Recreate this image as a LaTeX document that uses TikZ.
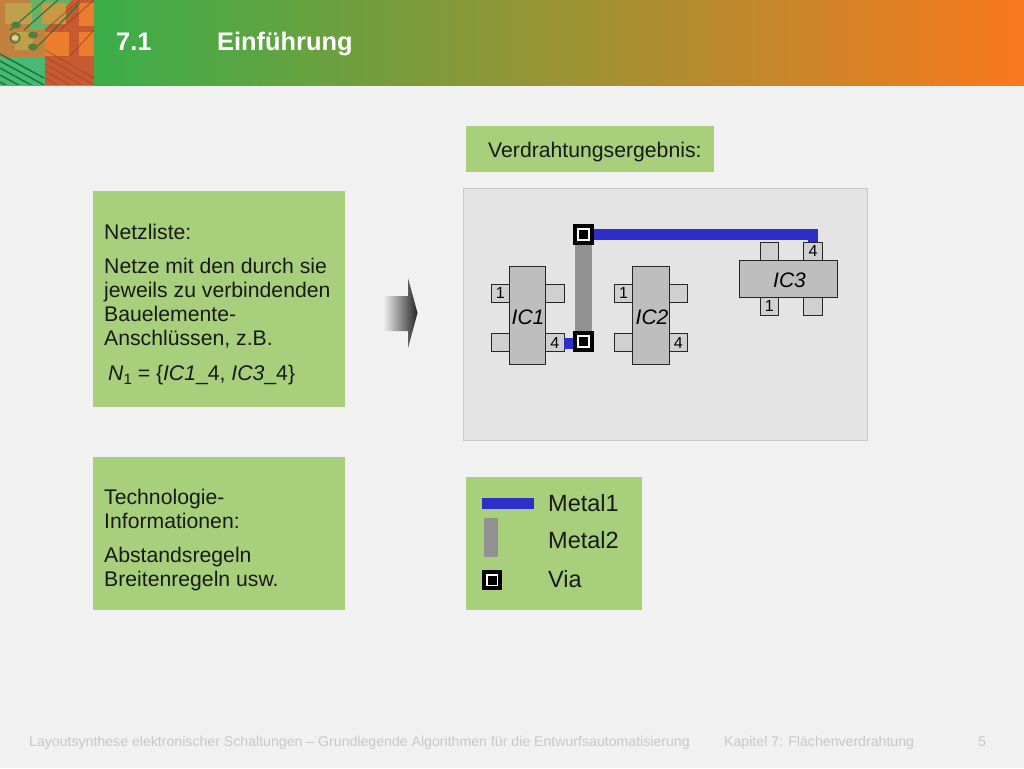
\documentclass[tikz,border=0pt]{standalone}
\usepackage{fontspec}
\setmainfont{Liberation Sans}
\definecolor{pagebg}{RGB}{241,241,241}
\definecolor{boxgreen}{RGB}{168,208,124}
\definecolor{headgreen}{RGB}{58,174,74}
\definecolor{headorange}{RGB}{250,120,30}
\definecolor{panel}{RGB}{228,228,228}
\definecolor{paneledge}{RGB}{200,200,200}
\definecolor{icbody}{RGB}{190,190,190}
\definecolor{icpin}{RGB}{208,208,208}
\definecolor{metalone}{RGB}{46,46,200}
\definecolor{metaltwo}{RGB}{146,146,146}
\definecolor{foot}{RGB}{200,200,200}
\definecolor{pcbgreen}{RGB}{70,185,115}
\definecolor{pcbdark}{RGB}{30,115,60}
\definecolor{pcbred}{RGB}{200,90,50}
\definecolor{pcbolive}{RGB}{190,160,75}
\definecolor{pcborange}{RGB}{235,125,45}
\tikzset{
  pxbox/.style n args={2}{rectangle,anchor=north west,inner sep=0pt,outer sep=0pt,minimum width=#1 pt,minimum height=#2 pt},
  greenbox/.style={fill=boxgreen},
  icb/.style={draw=black!85,line width=0.9pt,fill=icbody},
  icp/.style={draw=black!85,line width=0.9pt,fill=icpin,font=\fontsize{16}{16}\selectfont},
  viaouter/.style={rectangle,fill=black,minimum size=20.5pt,inner sep=0pt,outer sep=0pt},
  viaring/.style={rectangle,fill=white,minimum size=12.5pt,inner sep=0pt},
  viainner/.style={rectangle,fill=black,minimum size=9pt,inner sep=0pt},
  body/.style={anchor=north west,inner sep=0pt,align=left,font=\fontsize{21.2}{24}\selectfont,text=black!90},
  leg/.style={anchor=west,inner sep=0pt,font=\fontsize{23.5}{23.5}\selectfont,text=black!90},
  footer/.style={anchor=base west,inner sep=0pt,font=\fontsize{14.13}{15}\selectfont,text=foot},
  title/.style={anchor=base west,inner sep=0pt,font=\fontsize{25.4}{25.4}\selectfont\bfseries,text=white},
  iclabel/.style={inner sep=0pt,font=\fontsize{21}{21}\selectfont\itshape}
}
\begin{document}
\begin{tikzpicture}[x=1pt,y=-1pt]
\useasboundingbox (0,0) rectangle (1024,768);
\fill[pagebg] (0,0) rectangle (1024,768);
% header
\shade[left color=headgreen,right color=headorange,shading angle=90,left color=headgreen,right color=headorange] (94,0) rectangle (1024,85);
% pcb picture
\begin{scope}
\clip (0,0) rectangle (94,85);
\fill[pcbred] (0,0) rectangle (94,85);
\fill[pcbolive!55!pcbred] (0,0) rectangle (45,57);
\fill[pcbgreen] (0,57) rectangle (45,85);
\fill[pcbgreen!70!pcbolive] (30,0) -- (72,0) -- (45,30) -- (30,30) -- cycle;
\fill[pcbolive] (5,3) rectangle (32,24);
\fill[pcbolive!80!pcborange] (42,3) rectangle (66,24);
\fill[pcbolive] (15,32) rectangle (33,50);
\fill[pcborange] (79,3) rectangle (94,26);
\fill[pcborange] (45,32) rectangle (69,56);
\fill[pcborange] (79,32) rectangle (94,56);
\foreach \i in {0,7,...,42}{
  \draw[pcbdark,line width=1.4pt] (0,54+\i) -- (44,78+\i);
  \draw[pcbred!70!black,line width=1pt,opacity=.5] (45,50+\i) -- (94,78+\i);
}
\draw[pcbdark,line width=1pt] (10,30) -- (45,0) (24,30) -- (58,0) (38,46) -- (80,3);
\draw[pcbred!70!black,line width=1pt,opacity=.6] (45,30) -- (80,0) (60,30) -- (94,0) (70,56) -- (94,30);
\fill[pcbdark!70!pcbolive] (16,25) ellipse (5 and 3.5);
\fill[pcbdark!70!pcbolive] (33,47) ellipse (5 and 3.5);
\fill[pcbdark!70!pcbolive] (33,35) ellipse (5 and 3.5);
\fill[pcbolive!50!white] (15,38) ellipse (3 and 2.5);
\draw[pcbdark,line width=1pt] (15,38) circle (5);
\end{scope}
\draw[pcbgreen,line width=0.8pt] (0,85) -- (94,85);
\node[title] (titlenum) at (116,50) {7.1};
\node[title] (titletxt) at (217,50) {Einführung};
% text boxes
\node[pxbox={252}{216},greenbox] (netz) at (93,191) {};
\node[pxbox={252}{153},greenbox] (tech) at (93,457) {};
\node[pxbox={248}{46},greenbox] (erg) at (466,126) {};
\node[pxbox={176}{133},greenbox] (legbox) at (465.5,477) {};
\node[body] (ergt) at (488,142) {Verdrahtungsergebnis:};
\node[body] (n1) at (104,223.5) {Netzliste:};
\node[body] (n2) at (104,257.5) {Netze mit den durch sie\\jeweils zu verbindenden\\Bauelemente-\\Anschlüssen, z.B.};
\node[body] (n3) at (108,365) {\textit{N}\raisebox{-3.5pt}{\fontsize{15}{15}\selectfont 1} = \{\textit{IC1}\_4, \textit{IC3}\_4\}};
\node[body] (t1) at (104,489) {Technologie-\\Informationen:};
\node[body] (t2) at (104,547) {Abstandsregeln\\Breitenregeln usw.};
% arrow
\shade[left color=pagebg,right color=black!85,shading angle=90,left color=pagebg,right color=black!85]
  (383,296) -- (408,296) -- (408,278) -- (417.5,313) -- (408,348) -- (408,331) -- (383,331) -- cycle;
% panel
\node[pxbox={403.5}{252},fill=panel,draw=paneledge,line width=1pt] (panel) at (463.5,188) {};
% IC pins
\node[pxbox={18.4}{18.6},icp] (a1) at (491,284) {1};
\node[pxbox={18.4}{18.6},icp] (a2) at (545.7,284) {};
\node[pxbox={18.4}{18.6},icp] (a3) at (491,333.2) {};
\node[pxbox={18.4}{18.6},icp] (a4) at (545.7,333.2) {4};
\node[pxbox={18.4}{18.6},icp] (b1) at (614.3,284) {1};
\node[pxbox={18.4}{18.6},icp] (b2) at (669,284) {};
\node[pxbox={18.4}{18.6},icp] (b3) at (614.3,333.2) {};
\node[pxbox={18.4}{18.6},icp] (b4) at (669,333.2) {4};
\node[pxbox={18.4}{18}, icp] (c2) at (760,242.3) {};
\node[pxbox={18.4}{18}, icp] (c4) at (803.8,242.3) {\raisebox{-1.5pt}{4}};
\node[pxbox={18.4}{18}, icp] (c1) at (760,297) {1};
\node[pxbox={18.4}{18}, icp] (c3) at (803.8,297) {};
% IC bodies
\node[pxbox={36.4}{98.3},icb] (ic1) at (509.3,266) {};
\node[pxbox={36.4}{98.3},icb] (ic2) at (632.8,266) {};
\node[pxbox={98.4}{36.7},icb] (ic3) at (739.3,260.3) {};
\node[iclabel] at (528,317) {IC1};
\node[iclabel] at (652,317) {IC2};
\node[iclabel] at (789.5,280) {IC3};
% vias and wires
\node[viaouter] (v1) at (583.7,234.3) {};
\node[viaouter] (v2) at (583.7,341.7) {};
\draw[metaltwo,line width=16.7pt] (v1.south) -- (v2.north);
\draw[metalone,line width=10.5pt] (v1.east) -- (817.7,234.3);
\fill[metalone] (807.6,239) rectangle (817.7,242);
\draw[metalone,line width=11pt] (a4.east |- 0,343.5) -- (v2.west |- 0,343.5);
\node[viaring] at (v1) {};
\node[viainner] at (v1) {};
\node[viaring] at (v2) {};
\node[viainner] at (v2) {};
% legend
\coordinate (l1a) at (481.7,503.6);
\coordinate (l1b) at (534,503.6);
\draw[metalone,line width=10.6pt] (l1a) -- (l1b);
\coordinate (l2a) at (490.8,517.7);
\coordinate (l2b) at (490.8,556.7);
\draw[metaltwo,line width=14.3pt] (l2a) -- (l2b);
\node[viaouter] (lv) at (492,580) {};
\node[viaring] at (lv) {};
\node[viainner] at (lv) {};
\node[leg] (m1) at (548,503) {Metal1};
\node[leg] (m2) at (548,540) {Metal2};
\node[leg] (m3) at (548,579) {Via};
% footer
\node[footer] (f1) at (29,746) {Layoutsynthese elektronischer Schaltungen – Grundlegende Algorithmen für die Entwurfsautomatisierung};
\node[footer] (f2) at (724,746) {Kapitel 7: Flächenverdrahtung};
\node[footer] (f3) at (978,746) {5};
\end{tikzpicture}
\end{document}
